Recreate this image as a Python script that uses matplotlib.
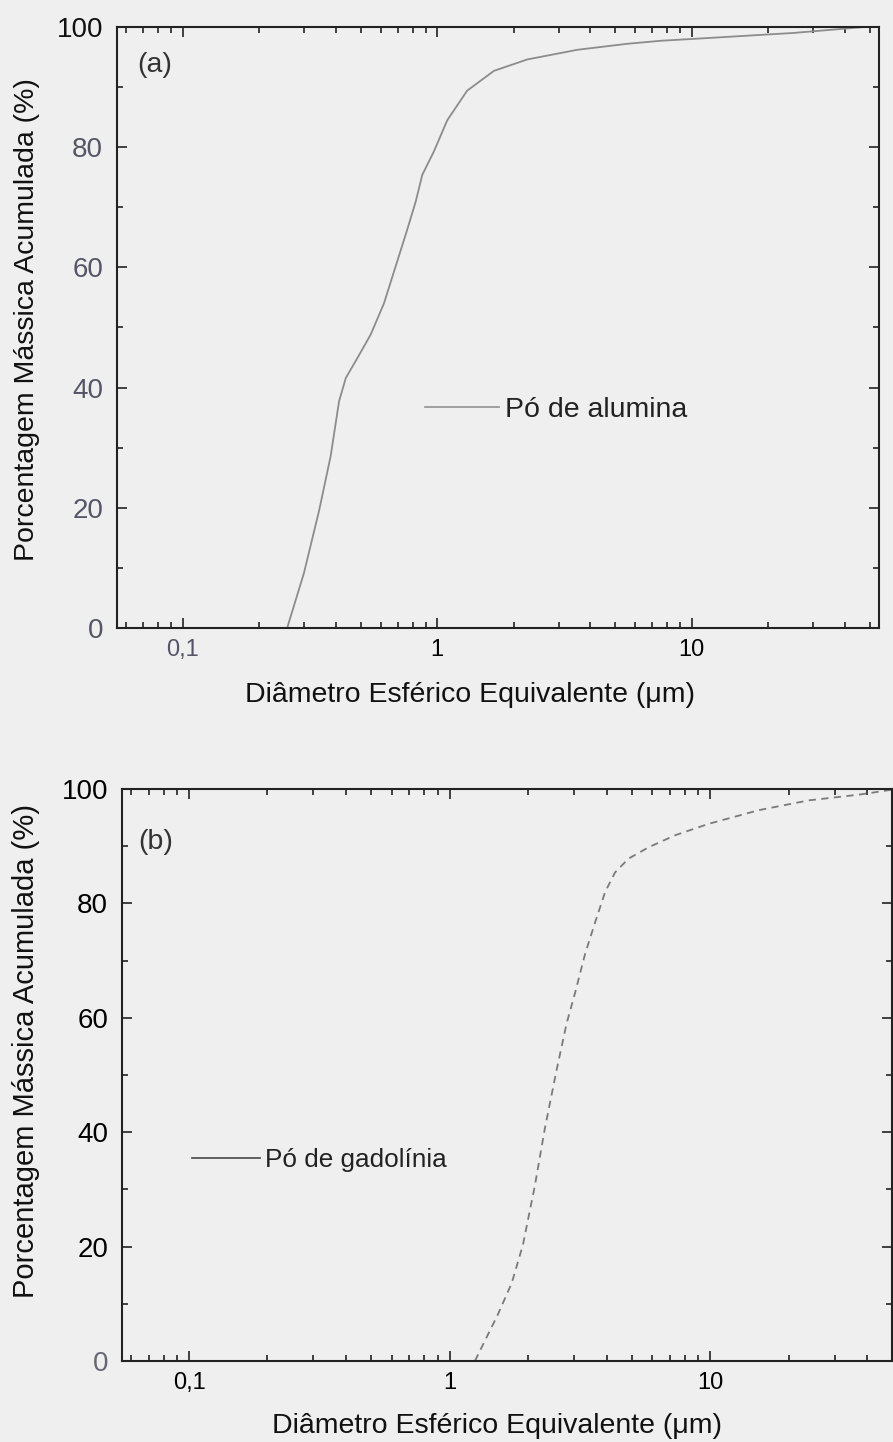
import matplotlib
matplotlib.use("Agg")
import matplotlib.pyplot as plt
from matplotlib.ticker import FixedLocator, FixedFormatter, LogLocator, NullFormatter

plt.rcParams['font.family'] = ['Liberation Sans', 'DejaVu Sans']

# (a) alumina powder: cumulative mass % vs equivalent spherical diameter (um)
alumina_d = [0.257, 0.299, 0.343, 0.381, 0.411, 0.437, 0.485, 0.547, 0.617, 0.697,
             0.762, 0.822, 0.873, 0.970, 1.095, 1.31, 1.67, 2.26, 3.55, 5.58,
             7.54, 10.0, 25.0, 48.0]
alumina_pct = [0, 9.1, 19.5, 28.6, 37.7, 41.6, 44.9, 48.8, 54.0, 61.1,
               66.3, 70.9, 75.4, 79.3, 84.5, 89.4, 92.7, 94.6, 96.2, 97.2,
               97.7, 98.0, 99.0, 100]

# (b) gadolinia powder
gadolinia_d = [1.25, 1.53, 1.73, 1.91, 2.12, 2.32, 2.57, 2.81, 3.03, 3.31,
               3.61, 3.95, 4.31, 4.85, 5.80, 7.33, 9.86, 15.4, 23.9, 37.2,
               47.1, 52.0]
gadolinia_pct = [0, 8.1, 13.6, 20.3, 30.5, 40.7, 50.8, 59.0, 64.4, 71.2,
                 76.6, 82.0, 85.4, 87.8, 89.8, 91.9, 93.9, 96.3, 98.0, 99.0,
                 99.7, 100]

x_ticks = [0.1, 1, 10]
x_ticklabels = ['0,1', '1', '10']
y_ticks = [0, 20, 40, 60, 80, 100]

xlabel = 'Diâmetro Esférico Equivalente (μm)'
ylabel = 'Porcentagem Mássica Acumulada (%)'

bg = '#efefef'
fig = plt.figure(figsize=(8.93, 14.42), dpi=100, facecolor=bg)


def setup_axes(ax, xlim, panel, panel_xy, legend_pos, legend_color, legend_size,
               xlabel_xy, ylabel_xy, ylabel_size):
    ax.set_facecolor(bg)
    ax.set_xscale('log')
    ax.set_xlim(*xlim)
    ax.set_ylim(0, 100)
    ax.xaxis.set_major_locator(FixedLocator(x_ticks))
    ax.xaxis.set_major_formatter(FixedFormatter(x_ticklabels))
    ax.xaxis.set_minor_locator(LogLocator(base=10, subs=range(2, 10), numticks=20))
    ax.xaxis.set_minor_formatter(NullFormatter())
    ax.set_yticks(y_ticks)
    ax.set_yticks(range(10, 100, 20), minor=True)
    ax.tick_params(which='both', direction='in', top=True, right=True, width=1.2, color='#222222')
    ax.tick_params(which='major', length=7)
    ax.tick_params(which='minor', length=4)
    ax.tick_params(axis='y', labelsize=20, pad=10)
    ax.tick_params(axis='x', labelsize=17, pad=8)
    for s in ax.spines.values():
        s.set_linewidth(1.5)
        s.set_color('#222222')
    ax.set_xlabel(xlabel, fontsize=20.5, color='#111111', va='center', ha='center')
    ax.xaxis.set_label_coords(*xlabel_xy)
    ax.set_ylabel(ylabel, fontsize=ylabel_size, color='#111111', va='center', ha='center')
    ax.yaxis.set_label_coords(*ylabel_xy)
    ax.text(panel_xy[0], panel_xy[1], panel, transform=ax.transAxes, fontsize=20.5,
            va='top', ha='left', color='#333333')
    leg = ax.legend(loc='center left', bbox_to_anchor=legend_pos, frameon=False,
                    fontsize=legend_size, handlelength=2.6, handletextpad=0.2, borderaxespad=0)
    leg.get_lines()[0].set_color(legend_color)
    leg.get_lines()[0].set_linestyle('-')
    leg.get_texts()[0].set_color('#222222')


# panel (a)
ax1 = fig.add_axes([0.131, 0.5645, 0.853, 0.4168])
ax1.plot(alumina_d, alumina_pct, color='#8c8c8c', lw=1.3, label='Pó de alumina')
setup_axes(ax1, (0.0551, 54.3), '(a)', (0.026, 0.958), (0.39, 0.362), '#999999', 20.5,
           (0.463, -0.112), (-0.118, 0.514), 20.5)
for i, lbl in enumerate(ax1.get_yticklabels()):
    lbl.set_color('#111111' if i == len(y_ticks) - 1 else '#555568')
ax1.get_xticklabels()[0].set_color('#555568')

# panel (b)
ax2 = fig.add_axes([0.1366, 0.0562, 0.8623, 0.3967])
ax2.plot(gadolinia_d, gadolinia_pct, color='#7a7a7a', lw=1.3, ls=(0, (4, 3)), label='Pó de gadolínia')
setup_axes(ax2, (0.0553, 49.8), '(b)', (0.021, 0.93), (0.077, 0.351), '#555555', 18.8,
           (0.487, -0.114), (-0.125, 0.542), 21)
ax2.get_yticklabels()[0].set_color('#666677')

fig.savefig('out.png', dpi=100, facecolor=bg)
